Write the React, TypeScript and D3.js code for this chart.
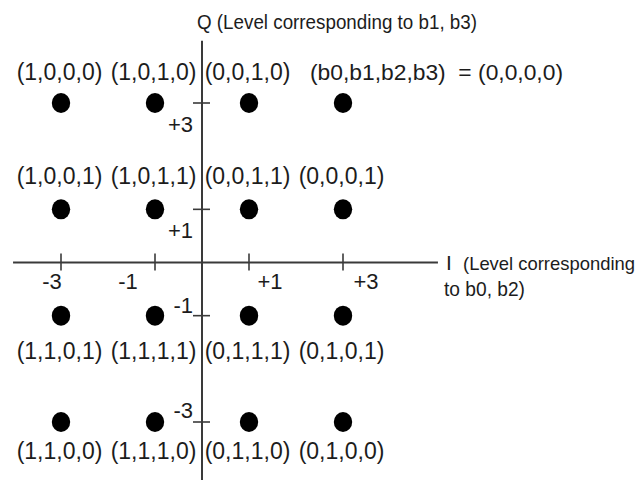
import React from 'react';
import * as d3 from 'd3';

// 16-QAM constellation, Gray coded (b0,b1,b2,b3)
const iLevels = [-3, -1, 1, 3];
const qLevels = [3, 1, -1, -3];

const pointLabels = [
    ['(1,0,0,0)', '(1,0,1,0)', '(0,0,1,0)', '(0,0,0,0)'],
    ['(1,0,0,1)', '(1,0,1,1)', '(0,0,1,1)', '(0,0,0,1)'],
    ['(1,1,0,1)', '(1,1,1,1)', '(0,1,1,1)', '(0,1,0,1)'],
    ['(1,1,0,0)', '(1,1,1,0)', '(0,1,1,0)', '(0,1,0,0)'],
];

const xTicks = [-3, -1, 1, 3];
const xTickLabels = ['-3', '-1', '+1', '+3'];
const yTicks = [3, 1, -1, -3];
const yTickLabels = ['+3', '+1', '-1', '-3'];

const qTitle = 'Q (Level corresponding to b1, b3)';
const iTitle = ['I', '(Level corresponding', 'to b0, b2)'];
const keyLabel = '(b0,b1,b2,b3)  = (0,0,0,0)';

const W = 640, H = 480;
const FONT = "Arial, 'Liberation Sans', sans-serif";
const INK = '#1c1c1c';
const AXIS = '#3a3a3a';

export default function App() {
    const x = d3.scaleLinear().domain([-3, 3]).range([61, 343]);
    const y = d3.scaleLinear().domain([-3, 3]).range([422, 103]);

    // label placement, per tick / per row
    const xTickDx = [-9, -27, 21, 23];
    const yTickDy = [29, 29, -3, -4];
    const rowDy = [-23, -25, 43, 37];

    const points = qLevels.flatMap((q, r) =>
        iLevels.map((i, c) => ({ i, q, r, c, label: pointLabels[r][c] })));

    return (
        <svg width={W} height={H} style={{ position: 'absolute', left: 0, top: 0 }}
            fontFamily={FONT} fill={INK}>
            <rect width={W} height={H} fill="#fff" />

            {/* axes */}
            <line x1={x(-4.02)} x2={x(5.02)} y1={y(0)} y2={y(0)} stroke={AXIS} strokeWidth={2} />
            <line x1={x(0)} x2={x(0)} y1={y(4.17)} y2={y(-4.2)} stroke={AXIS} strokeWidth={2} />

            {xTicks.map((t, k) => (
                <g key={'xt' + t}>
                    <line x1={x(t)} x2={x(t)} y1={y(0) - 9} y2={y(0) + 8} stroke={AXIS} strokeWidth={1.6} />
                    <text x={x(t) + xTickDx[k]} y={289} textAnchor="middle" fontSize={22}>{xTickLabels[k]}</text>
                </g>
            ))}
            {yTicks.map((t, k) => (
                <g key={'yt' + t}>
                    <line x1={x(0) - 9} x2={x(0) + 8} y1={y(t)} y2={y(t)} stroke={AXIS} strokeWidth={1.6} />
                    <text x={193} y={y(t) + yTickDy[k]} textAnchor="end" fontSize={22}>{yTickLabels[k]}</text>
                </g>
            ))}

            {/* axis titles */}
            <text x={197} y={29} fontSize={21} textLength={280} lengthAdjust="spacingAndGlyphs">{qTitle}</text>
            <text x={446} y={270} fontSize={21}>{iTitle[0]}</text>
            <text x={463} y={270} fontSize={18.5} textLength={172} lengthAdjust="spacingAndGlyphs">{iTitle[1]}</text>
            <text x={444} y={296} fontSize={21} textLength={81} lengthAdjust="spacingAndGlyphs">{iTitle[2]}</text>

            {/* constellation points */}
            {points.map(p => (
                <g key={p.label}>
                    <ellipse cx={x(p.i)} cy={y(p.q)} rx={9.2} ry={10} fill="#000" />
                    {p.r === 0 && p.c === 3
                        ? <text x={310} y={y(p.q) + rowDy[p.r]} fontSize={22} style={{ whiteSpace: 'pre' }}
                            textLength={253} lengthAdjust="spacingAndGlyphs">{keyLabel}</text>
                        : <text x={x(p.i) - 1.5} y={y(p.q) + rowDy[p.r]} textAnchor="middle" fontSize={23}>{p.label}</text>}
                </g>
            ))}
        </svg>
    );
}
